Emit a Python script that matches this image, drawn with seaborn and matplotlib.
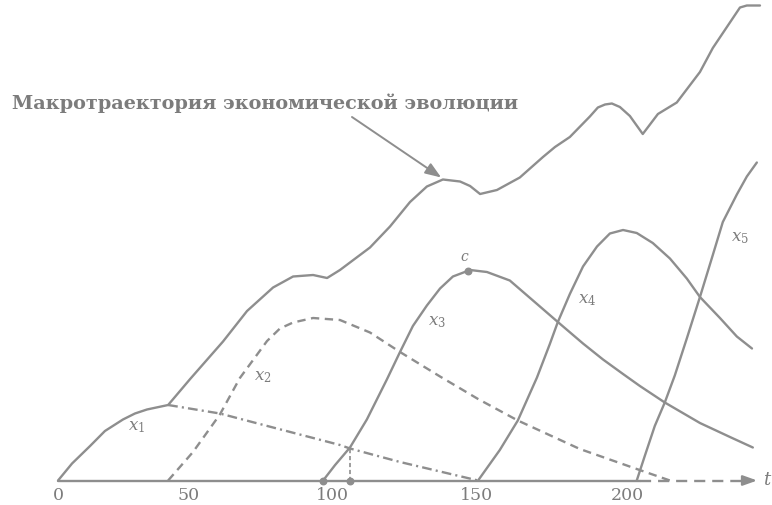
import matplotlib
matplotlib.use('Agg')
from matplotlib import pyplot as plt
import seaborn as sns

# macro trajectory: rising part of x1, then the envelope over x2..x5
macro_t = [0, 4.9, 11.2, 16.4, 22.7, 26.9, 31.1, 38.5, 46.2, 57.7, 66.1, 75.2, 82.2,
           89.2, 94.1, 98.6, 109.1, 116.1, 123.1, 129.0, 134.6, 140.6, 144.1, 147.6,
           153.5, 161.5, 169.6, 173.8, 179.0, 186.0, 188.8, 191.3, 193.7, 196.5, 200.0,
           204.5, 209.8, 216.4, 224.5, 229.0, 238.5, 240.9, 245.5]
macro_y = [0, 3.4, 6.9, 9.9, 12.2, 13.4, 14.2, 15.1, 20.3, 27.8, 33.9, 38.6, 40.8,
           41.1, 40.5, 42.1, 46.6, 50.8, 55.7, 58.8, 60.2, 59.8, 58.9, 57.3,
           58.1, 60.6, 64.7, 66.7, 68.7, 72.8, 74.6, 75.2, 75.4, 74.7, 72.9,
           69.3, 73.3, 75.6, 81.7, 86.5, 94.6, 95.0, 95.0]

# x1 after its maximum (dash-dot)
x1_t = [38.5, 56.6, 75.2, 98.6, 102.1, 119.6, 133.6, 146.9]
x1_y = [15.1, 13.4, 10.6, 7.1, 6.4, 3.7, 1.8, 0]

# x2 (dashed)
x2_t = [38.5, 47.2, 56.6, 63.6, 73.1, 77.6, 82.2, 89.2, 98.6, 109.1, 119.6, 133.6,
        146.9, 160.8, 182.5, 202.4, 214.0]
x2_y = [0, 5.7, 13.2, 20.5, 27.9, 30.4, 31.6, 32.5, 32.1, 29.6, 25.7, 20.8,
        16.3, 12.0, 6.3, 2.3, 0]

x3_t = [92.7, 96.9, 102.1, 108.0, 115.0, 119.6, 124.1, 129.0, 133.6, 138.1, 144.1,
        150.0, 158.0, 166.1, 174.8, 183.6, 190.6, 197.6, 203.5, 212.2, 224.5, 235.0, 243.0]
x3_y = [0, 3.1, 6.6, 12.2, 20.2, 25.7, 30.9, 35.0, 38.4, 40.8, 42.1,
        41.7, 40.0, 36.0, 31.7, 27.4, 24.2, 21.3, 18.9, 15.6, 11.5, 8.7, 6.6]

x4_t = [146.9, 154.5, 160.8, 167.5, 172.0, 174.8, 179.0, 183.6, 188.5, 193.0, 197.6,
        202.4, 208.0, 214.0, 219.9, 224.5, 231.5, 237.4, 242.7]
x4_y = [0, 6.1, 12.0, 20.6, 27.3, 31.7, 37.3, 42.8, 46.8, 49.4, 50.1,
        49.5, 47.5, 44.4, 40.4, 36.7, 32.5, 28.8, 26.4]

x5_t = [202.4, 205.2, 208.7, 212.2, 215.7, 219.9, 224.5, 229.0, 232.5, 237.4, 240.9, 244.4]
x5_y = [0, 4.9, 10.9, 15.6, 21.0, 28.4, 36.7, 45.1, 51.7, 57.2, 60.8, 63.6]

# time axis: solid part, dashed continuation
axis_solid_t = [0, 203.5]
axis_dash_t = [203.5, 241.0]
axis_end_t = 245.5
tick_t = [0, 45.5, 96, 146.5, 199]
tick_labels = ['0', '50', '100', '150', '200']

# marked points
dots_t = [92.7, 102.1]
c_t, c_y = 143.4, 41.9
drop_t, drop_y = 102.1, 6.4

curve_labels = ['$x_1$', '$x_2$', '$x_3$', '$x_4$', '$x_5$']
label_t = [27.6, 71.7, 132.5, 185.0, 238.5]
label_y = [10.9, 20.9, 31.9, 36.3, 48.7]

title = 'Макротраектория экономической эволюции'

sns.set_theme(style='white')
plt.rcParams['font.family'] = ['DejaVu Serif']
plt.rcParams['mathtext.fontset'] = 'dejavuserif'
plt.rcParams['lines.scale_dashes'] = False

ink = '#8e8e8e'
txt = '#7c7c7c'
lw = 1.7

fig = plt.figure(figsize=(7.72, 5.06), dpi=100)
ax = fig.add_axes([0, 0, 1, 1])
ax.set_xlim(-20.3, 249.7)
ax.set_ylim(-4.9, 96.3)
ax.axis('off')

def curve(t, y, ls='-'):
    sns.lineplot(x=t, y=y, ax=ax, color=ink, lw=lw, linestyle=ls,
                 estimator=None, sort=False, solid_joinstyle='round',
                 solid_capstyle='round')

curve(macro_t, macro_y)
curve(x1_t, x1_y, (0, (7, 3, 1.5, 3)))
curve(x2_t, x2_y, (0, (6, 4)))
curve(x3_t, x3_y)
curve(x4_t, x4_y)
curve(x5_t, x5_y)

# time axis
curve(axis_solid_t, [0, 0])
curve(axis_dash_t, [0, 0], (0, (8, 5)))
ax.annotate('', xy=(axis_end_t, 0), xytext=(axis_dash_t[1] - 0.5, 0),
            arrowprops=dict(arrowstyle='-|>,head_length=0.7,head_width=0.25',
                            color=ink, lw=lw))
ax.text(axis_end_t + 1.2, 0.3, 't', color=txt, fontsize=13, style='italic',
        ha='left', va='center')

for t, lab in zip(tick_t, tick_labels):
    ax.text(t, -2.8, lab, color=txt, fontsize=12.5, ha='center', va='center')

# special points
ax.plot([drop_t, drop_t], [0, drop_y], color=ink, lw=1.2, linestyle=(0, (3, 2)))
ax.scatter(dots_t, [0, 0], s=22, color=ink, zorder=3)
ax.scatter([c_t], [c_y], s=22, color=ink, zorder=3)
ax.text(c_t - 1.0, c_y + 3.0, '$c$', color=txt, fontsize=10, ha='center', va='center')

for t, y, lab in zip(label_t, label_y, curve_labels):
    ax.text(t, y, lab, color=txt, fontsize=12, ha='center', va='center')

# caption with pointer
ax.text(-16.1, 75.7, title, color=txt, fontsize=13.9, ha='left', va='center',
        fontweight='bold')
ax.annotate('', xy=(134.0, 60.6), xytext=(102.8, 72.7),
            arrowprops=dict(arrowstyle='-|>,head_length=0.8,head_width=0.3',
                            color=ink, lw=1.4, shrinkA=0, shrinkB=0))

fig.savefig('out.png', dpi=100)
